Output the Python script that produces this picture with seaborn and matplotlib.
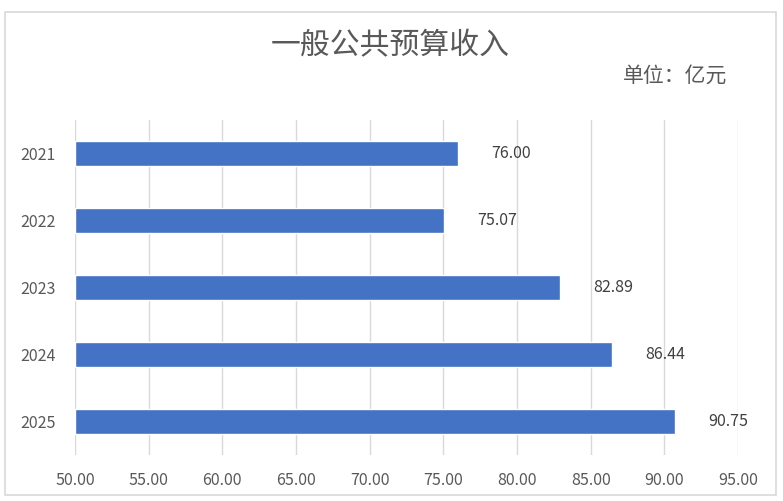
import matplotlib
matplotlib.use("Agg")
import matplotlib.pyplot as plt
import seaborn as sns
import pandas as pd
from matplotlib.patches import Rectangle

years = ["2021", "2022", "2023", "2024", "2025"]
revenue = [76.00, 75.07, 82.89, 86.44, 90.75]
xticks = [50, 55, 60, 65, 70, 75, 80, 85, 90, 95]

sns.set_style("white")
plt.rcParams['font.family'] = ['Noto Sans CJK SC', 'DejaVu Sans']

df = pd.DataFrame({"year": years, "revenue": revenue})

fig = plt.figure(figsize=(7.83, 5.01), dpi=100)
ax = fig.add_axes([0.0958, 0.0918, 0.8467, 0.6687])

# bars start at 50 like the excel axis
sns.barplot(data=df, x="revenue", y="year", orient="h", color="#4472C4",
            saturation=1, width=0.36, ax=ax)
for p in ax.patches:
    x0 = p.get_x()
    w = p.get_width()
    p.set_x(50)
    p.set_width(x0 + w - 50)

ax.set_xlim(50, 95)
ax.set_ylim(4.5, -0.5)
ax.set_xticks(xticks)
ax.set_xticklabels([f"{t:.2f}" for t in xticks])
ax.xaxis.grid(True, color="#D9D9D9", linewidth=1)
ax.set_axisbelow(True)
for s in ax.spines.values():
    s.set_visible(False)
ax.set_xlabel("")
ax.set_ylabel("")
ax.tick_params(axis="both", length=0, labelsize=11.5, labelcolor="#595959")
ax.tick_params(axis="x", pad=12)
ax.tick_params(axis="y", pad=14)

for i, v in enumerate(revenue):
    ax.annotate(f"{v:.2f}", xy=(v, i), xytext=(24, 0), textcoords="offset points",
                va="center", ha="left", fontsize=11.5, color="#404040")

fig.text(0.498, 0.908, "一般公共预算收入", ha="center", va="center",
         fontsize=21.5, color="#595959")
fig.text(0.929, 0.848, "单位：亿元", ha="right", va="center",
         fontsize=15, color="#595959")

fig.patches.append(Rectangle((0.007, 0.012), 0.984, 0.965, transform=fig.transFigure,
                             fill=False, edgecolor="#D9D9D9", linewidth=1.2))

fig.savefig("out.png", dpi=100)
